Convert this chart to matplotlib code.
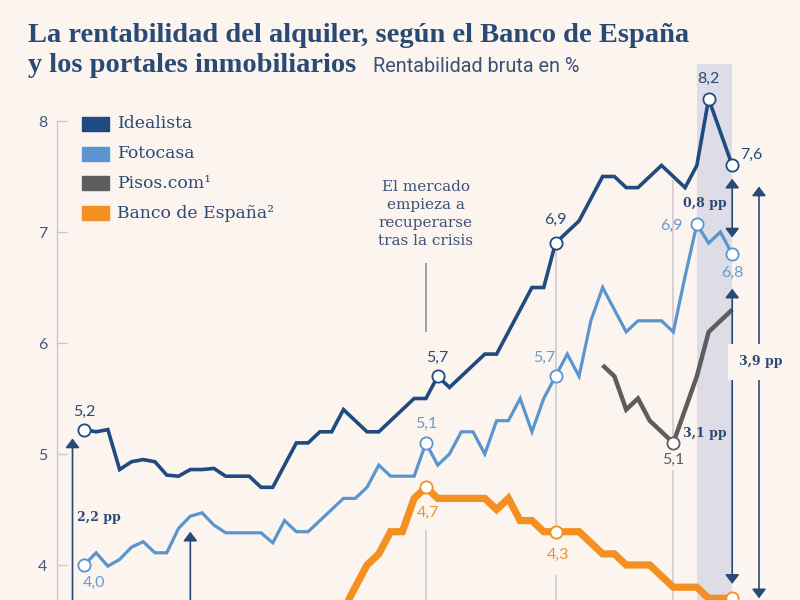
import numpy as np
import matplotlib
matplotlib.use("Agg")
import matplotlib.pyplot as plt
from matplotlib.patches import Rectangle

nan = np.nan

# ---------------- data (quarterly, 2007 T1 ... 2020 T4) ----------------
quarters = np.arange(56)

idealista = [5.22, 5.20, 5.22, 4.86, 4.93, 4.95, 4.93, 4.81, 4.80, 4.86,
             4.86, 4.87, 4.80, 4.80, 4.80, 4.70, 4.70, 4.90, 5.10, 5.10,
             5.20, 5.20, 5.40, 5.30, 5.20, 5.20, 5.30, 5.40, 5.50, 5.50,
             5.70, 5.60, 5.70, 5.80, 5.90, 5.90, 6.10, 6.30, 6.50, 6.50,
             6.90, 7.00, 7.10, 7.30, 7.50, 7.50, 7.40, 7.40, 7.50, 7.60,
             7.50, 7.40, 7.60, 8.20, 7.90, 7.60]

fotocasa = [4.00, 4.11, 3.99, 4.05, 4.16, 4.21, 4.11, 4.11, 4.33, 4.44,
            4.47, 4.36, 4.29, 4.29, 4.29, 4.29, 4.20, 4.40, 4.30, 4.30,
            4.40, 4.50, 4.60, 4.60, 4.70, 4.90, 4.80, 4.80, 4.80, 5.10,
            4.90, 5.00, 5.20, 5.20, 5.00, 5.30, 5.30, 5.50, 5.20, 5.50,
            5.70, 5.90, 5.70, 6.20, 6.50, 6.30, 6.10, 6.20, 6.20, 6.20,
            6.10, 6.60, 7.07, 6.90, 7.00, 6.80]

pisos = [nan] * 44 + [5.80, 5.70, 5.40, 5.50, 5.30, 5.20, 5.10, 5.40,
                      5.70, 6.10, 6.20, 6.30]

banco_espana = [nan] * 22 + [3.60, 3.80, 4.00, 4.10, 4.30, 4.30, 4.60, 4.70,
                             4.60, 4.60, 4.60, 4.60, 4.60, 4.50, 4.60, 4.40,
                             4.40, 4.30, 4.30, 4.30, 4.30, 4.20, 4.10, 4.10,
                             4.00, 4.00, 4.00, 3.90, 3.80, 3.80, 3.80, 3.70,
                             3.70, 3.70]

series_names = ["Idealista", "Fotocasa", "Pisos.com\u00b9", "Banco de España\u00b2"]
series_values = [idealista, fotocasa, pisos, banco_espana]

# highlighted points: (series index, quarter, label) - label None when outside the view
highlights = [(0, 0, "5,2"), (0, 30, "5,7"), (0, 40, "6,9"), (0, 53, "8,2"), (0, 55, "7,6"),
              (1, 0, "4,0"), (1, 29, "5,1"), (1, 40, "5,7"), (1, 52, "6,9"), (1, 55, "6,8"),
              (2, 50, "5,1"),
              (3, 29, "4,7"), (3, 40, "4,3"), (3, 55, None)]

event_quarters = [29, 40, 50]
covid_span = (52, 55)
yticks = [4, 5, 6, 7, 8]

title_1 = "La rentabilidad del alquiler, según el Banco de España"
title_2 = "y los portales inmobiliarios"
subtitle = "Rentabilidad bruta en %"
note = "El mercado\nempieza a\nrecuperarse\ntras la crisis"

# ---------------- style ----------------
BG = "#fcf4ee"
NAVY = "#2a4a76"
colors = ["#1f4b80", "#5b95d0", "#5d5d5f", "#f39021"]
label_colors = ["#2a4a76", "#6a9bd0", "#5d5d5f", "#e8962f"]
widths = [2.6, 2.3, 3.2, 5.2]
GRID = "#cbc7cb"

W, H = 800, 600
X0, X1 = -7.156, 60.755
Y0, Y1 = 3.6847, 9.0901


def dx(px):
    return X0 + px * (X1 - X0) / W


def dy(py):
    return Y1 - py * (Y1 - Y0) / H


fig = plt.figure(figsize=(8, 6), dpi=100, facecolor=BG)
ax = fig.add_axes([0, 0, 1, 1])
ax.set_facecolor(BG)
ax.set_xlim(X0, X1)
ax.set_ylim(Y0, Y1)

# axis
for s in ["top", "right", "bottom"]:
    ax.spines[s].set_visible(False)
ax.spines["left"].set_position(("data", dx(57)))
ax.spines["left"].set_bounds(Y0, 8)
ax.spines["left"].set_color(GRID)
ax.spines["left"].set_linewidth(1)
ax.set_xticks([])
ax.set_yticks(yticks)
ax.set_yticklabels([str(t) for t in yticks])
ax.tick_params(axis="y", direction="in", length=7.5, width=1, color=GRID,
               pad=7, labelsize=11.5, labelcolor="#45597a")
for lab in ax.get_yticklabels():
    lab.set_fontfamily("Lato")

# covid band
ax.axvspan(covid_span[0], covid_span[1], ymin=0, ymax=1 - 64 / H,
           color="#dedde7", zorder=0, lw=0)

# event vertical lines
e0, e1, e2 = event_quarters
ax.vlines(e0, Y0, dy(530), color=GRID, lw=1.1, zorder=1)
ax.vlines(e0, dy(332), dy(263), color="#7f8aa0", lw=1.1, zorder=1)
ax.vlines(e1, Y0, dy(575), color=GRID, lw=1.1, zorder=1)
ax.vlines(e1, banco_espana[e1], idealista[e1], color=GRID, lw=1.1, zorder=1)
ax.vlines(e2, Y0, dy(470), color=GRID, lw=1.1, zorder=1)
ax.vlines(e2, pisos[e2], idealista[e2] - 0.03, color=GRID, lw=1.1, zorder=1)

# lines
zord = [5, 4, 4, 3]
for vals, c, lw, z in zip(series_values, colors, widths, zord):
    ax.plot(quarters, vals, color=c, lw=lw, zorder=z,
            solid_joinstyle="miter", solid_capstyle="butt")

# highlight markers and labels
offsets = {(0, 0): (0, 18), (0, 30): (0, 18), (0, 40): (0, 23), (0, 53): (0, 20),
           (0, 55): (19, 11), (1, 0): (10, -18), (1, 29): (0, 19), (1, 40): (-11, 18),
           (1, 52): (-25, -2), (1, 55): (0, -19), (2, 50): (0, -17), (3, 29): (2, -26),
           (3, 40): (2, -23)}
for si, q, lab in highlights:
    v = series_values[si][q]
    ax.plot(q, v, "o", ms=8.8, mfc="white", mec=colors[si], mew=1.3, zorder=7)
    if lab is None:
        continue
    ox, oy = offsets[(si, q)]
    ax.annotate(lab, (q, v), xytext=(ox * 0.72, oy * 0.72), textcoords="offset points",
                ha="center", va="center", fontsize=11.5, family="Lato",
                color=label_colors[si], zorder=8, annotation_clip=False)

# arrows
def arrow(x, y_from, y_to, style="-|>"):
    ax.annotate("", xy=(x, y_to), xytext=(x, y_from),
                arrowprops=dict(arrowstyle=style + ",head_length=0.55,head_width=0.42",
                                mutation_scale=10, color=NAVY, lw=1.2,
                                shrinkA=0, shrinkB=0), zorder=6)


pp_font = dict(family="DejaVu Serif", fontweight="bold", fontsize=9, color=NAVY)

arrow(quarters[0] - 1, Y0 - 0.3, idealista[0] - 0.08)
ax.text(dx(77), dy(517), "2,2 pp", ha="left", va="center", **pp_font)
arrow(9, Y0 - 0.3, fotocasa[9] - 0.14)
arrow(55, fotocasa[55] + 0.15, idealista[55] - 0.12, style="<|-|>")
ax.text(dx(727), dy(203), "0,8 pp", ha="right", va="center", **pp_font)
arrow(55, banco_espana[55] + 0.13, fotocasa[55] - 0.31, style="<|-|>")
ax.text(dx(727), dy(433), "3,1 pp", ha="right", va="center", **pp_font)
arrow(dx(759), banco_espana[55] + 0.0, idealista[55] - 0.19, style="<|-|>")
ax.text(dx(761), dy(362), "3,9 pp", ha="center", va="center", zorder=9,
        bbox=dict(boxstyle="square,pad=0.9", fc=BG, ec="none"), **pp_font)

# note
ax.text(e0, dy(214), note, ha="center", va="center", family="DejaVu Serif",
        fontsize=11, color="#3b5276", linespacing=1.35)

# legend
for k, (name, c) in enumerate(zip(series_names, colors)):
    yc = 124 + k * 29.7
    fig.patches.append(Rectangle((82 / W, 1 - (yc + 7) / H), 27 / W, 14 / H,
                                 transform=fig.transFigure, color=c, zorder=10))
    fig.text(117 / W, 1 - yc / H, name, ha="left", va="center", family="DejaVu Serif",
             fontsize=12.4, color=NAVY)

# titles
fig.text(28 / W, 1 - 41.7 / H, title_1, ha="left", va="baseline",
         family="Liberation Serif", fontweight="bold", fontsize=20.5, color=NAVY)
fig.text(28 / W, 1 - 71.7 / H, title_2, ha="left", va="baseline",
         family="Liberation Serif", fontweight="bold", fontsize=20.5, color=NAVY)
fig.text(373 / W, 1 - 71.7 / H, subtitle, ha="left", va="baseline",
         family="Roboto", fontsize=14.3, color="#3b5276")

fig.savefig("out.png", dpi=100, facecolor=BG)
